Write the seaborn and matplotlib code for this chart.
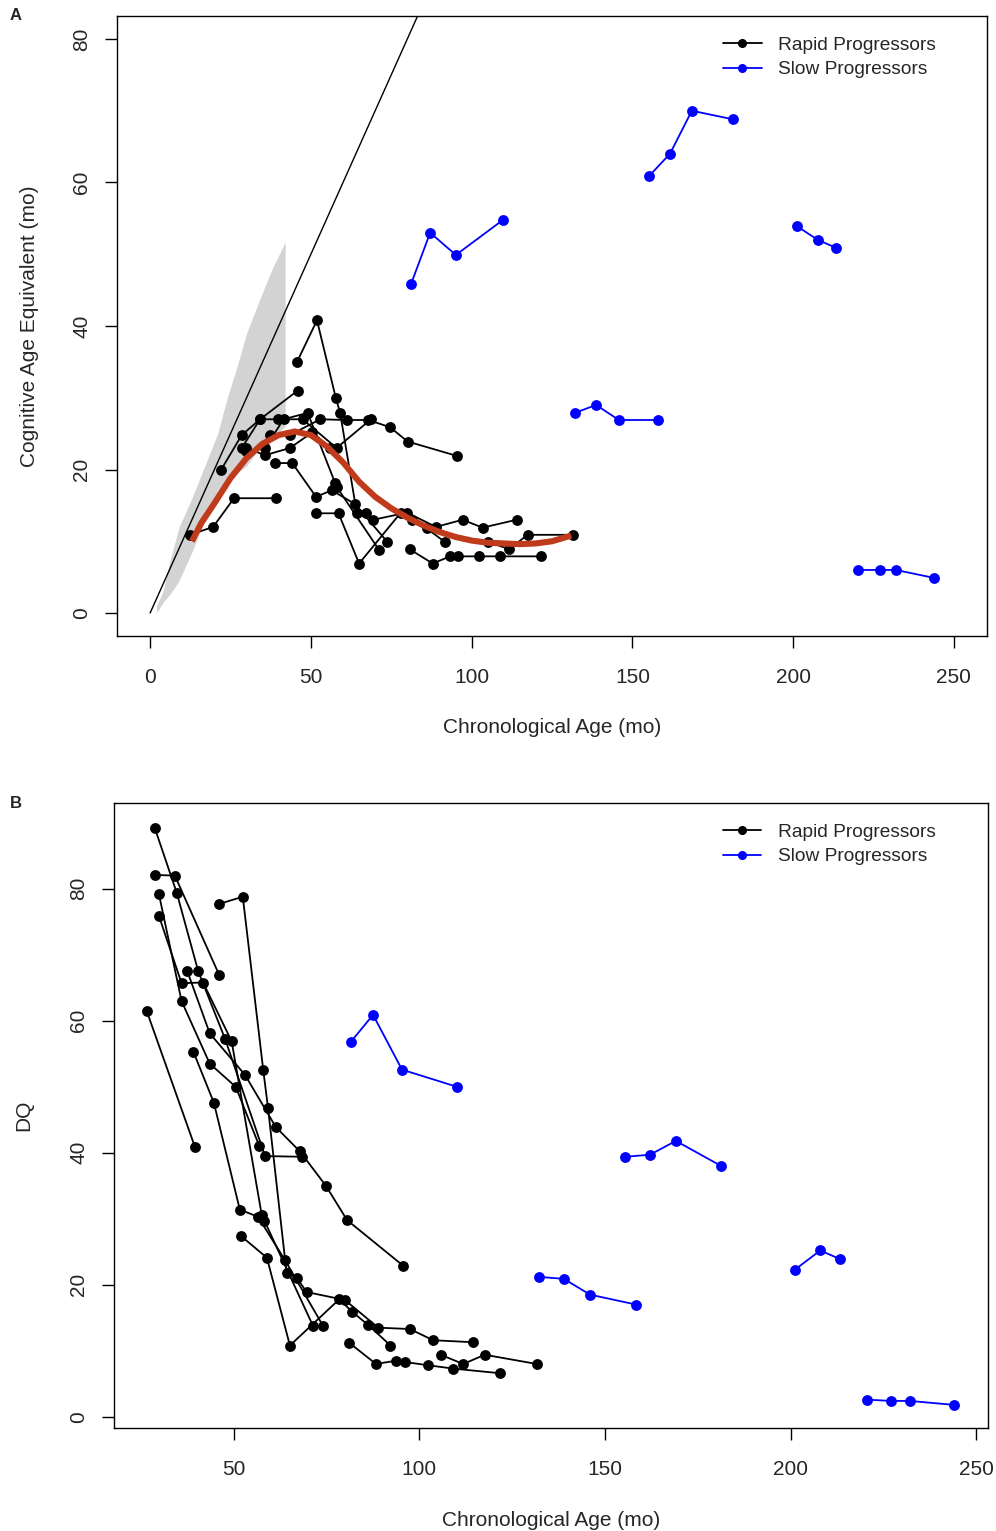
import matplotlib
matplotlib.use("Agg")
import matplotlib.pyplot as plt
from matplotlib.lines import Line2D
import pandas as pd
import seaborn as sns

# ---- Panel A: chronological age (mo) vs cognitive age equivalent (mo), one list per child
A_RAPID_AGE = [
    [12.4, 19.6, 26.1, 39.2],
    [45.7, 51.9, 57.8, 59.1, 64.3, 67.2, 69.4, 79.9, 88.9, 97.2, 103.4, 114.0],
    [37.3, 43.5, 52.9, 61.2, 67.9, 74.6, 80.1, 95.4],
    [22.0, 28.5, 34.2, 39.9, 47.4, 58.0, 68.7],
    [28.5, 34.2, 45.9],
    [29.8, 35.8, 43.5, 50.5, 56.0],
    [29.8, 35.8, 41.5, 49.0, 58.0, 71.2],
    [38.9, 44.2, 51.6, 56.5, 63.7, 73.8],
    [51.6, 58.6, 65.0, 78.0, 81.4, 86.0, 91.7],
    [57.5],
    [80.7, 87.9, 93.3, 95.7, 102.3, 108.8, 121.5],
    [105.2, 111.7, 117.4, 131.4],
]
A_RAPID_CAE = [
    [10.9, 12.0, 16.0, 16.0],
    [35.0, 40.8, 29.9, 27.9, 13.9, 13.9, 13.0, 14.0, 12.0, 13.0, 11.9, 13.0],
    [24.8, 24.8, 27.0, 26.9, 26.9, 25.9, 23.9, 21.9],
    [19.9, 24.8, 27.0, 27.0, 27.0, 23.0, 27.0],
    [23.0, 27.0, 31.0],
    [23.0, 22.0, 23.0, 25.2, 23.0],
    [22.6, 23.0, 27.0, 27.9, 17.6, 8.8],
    [20.9, 20.9, 16.2, 17.1, 15.2, 9.9],
    [13.9, 13.9, 6.9, 14.0, 13.0, 11.8, 9.9],
    [18.1],
    [8.9, 6.9, 7.9, 7.9, 7.9, 7.9, 7.9],
    [9.9, 8.9, 10.9, 10.9],
]
A_SLOW_AGE = [
    [81.2, 87.1, 95.1, 109.8],
    [155.2, 161.7, 168.5, 181.3],
    [201.2, 207.7, 213.3],
    [132.2, 138.7, 145.8, 158.0],
    [220.1, 227.0, 232.0, 243.8],
]
A_SLOW_CAE = [
    [45.9, 53.0, 49.9, 54.8],
    [60.9, 64.0, 70.0, 68.8],
    [53.9, 52.0, 50.9],
    [27.9, 29.0, 26.9, 26.9],
    [6.0, 6.0, 6.0, 4.9],
]

# smoothed group trend for rapid progressors (red curve)
FIT_AGE = [13, 16, 20, 25, 30, 35, 40, 45, 50, 55, 60, 65, 70, 75, 80, 85, 90, 95,
           100, 105, 110, 115, 120, 125, 131]
FIT_CAE = [10.0, 12.6, 15.3, 18.8, 21.6, 23.6, 24.8, 25.3, 24.8, 23.2, 21.0, 18.3,
           16.2, 14.6, 13.3, 12.2, 11.3, 10.6, 10.1, 9.8, 9.7, 9.6, 9.7, 10.0, 10.8]

# grey reference band of typical development
BAND_AGE = [2, 4, 6, 9, 13, 17, 21, 24, 27, 30, 34, 38, 42]
BAND_LOW = [0, 1.5, 2.5, 4.5, 8.5, 13.0, 16.5, 18.5, 19.5, 20.5, 23.0, 24.5, 26.0]
BAND_HIGH = [1, 3, 7, 12, 16, 20.5, 25, 30, 34.3, 39, 43.6, 48, 51.7]

# ---- Panel B: chronological age (mo) vs developmental quotient
B_RAPID_AGE = [
    [26.5, 39.5],
    [46.0, 52.4, 57.9, 59.2, 64.2, 66.9, 69.6, 79.9, 88.9, 97.4, 103.7, 114.3],
    [37.4, 43.5, 53.0, 61.3, 67.8, 74.8, 80.5, 95.6],
    [28.7, 34.6, 40.4, 47.6, 58.4, 68.3],
    [28.7, 34.1, 46.0],
    [29.8, 35.9, 43.5, 50.5, 56.8],
    [29.8, 35.9, 41.7, 49.4, 57.5, 71.3],
    [39.1, 44.6, 51.6, 56.5, 63.7, 74.0],
    [51.9, 58.9, 65.1, 78.4, 81.9, 86.2, 92.2],
    [58.1],
    [81.1, 88.3, 93.7, 96.1, 102.4, 109.1, 121.7],
    [105.7, 111.8, 117.6, 131.6],
]
B_RAPID_DQ = [
    [61.5, 40.9],
    [77.7, 78.8, 52.6, 46.8, 21.8, 21.1, 18.9, 17.7, 13.5, 13.3, 11.6, 11.3],
    [67.6, 58.1, 51.8, 43.9, 40.2, 35.0, 29.8, 22.9],
    [89.2, 79.4, 67.5, 57.3, 39.5, 39.4],
    [82.1, 82.0, 67.0],
    [79.2, 63.0, 53.5, 50.0, 41.1],
    [75.9, 65.7, 65.8, 56.9, 30.6, 13.8],
    [55.3, 47.6, 31.4, 30.3, 23.8, 13.8],
    [27.4, 24.1, 10.8, 17.8, 15.9, 13.9, 10.8],
    [29.7],
    [11.2, 8.0, 8.5, 8.3, 7.8, 7.3, 6.6],
    [9.4, 8.0, 9.4, 8.0],
]
B_SLOW_AGE = [
    [81.5, 87.5, 95.3, 110.1],
    [155.4, 162.1, 169.1, 181.3],
    [201.2, 208.0, 213.3],
    [132.2, 138.9, 146.0, 158.4],
    [220.6, 227.1, 232.2, 244.1],
]
B_SLOW_DQ = [
    [56.8, 60.9, 52.6, 50.0],
    [39.4, 39.7, 41.8, 38.0],
    [22.3, 25.2, 23.9],
    [21.2, 20.9, 18.5, 17.0],
    [2.6, 2.4, 2.4, 1.8],
]

GROUPS = ["Rapid Progressors", "Slow Progressors"]
COLORS = {"Rapid Progressors": "black", "Slow Progressors": "#0000FF"}
FIT_COLOR = "#C03A1C"
FONT = ["Liberation Sans", "DejaVu Sans"]


def long_frame(rapid_x, rapid_y, slow_x, slow_y):
    rows = []
    for group, xs, ys in [(GROUPS[0], rapid_x, rapid_y), (GROUPS[1], slow_x, slow_y)]:
        for i, (sx, sy) in enumerate(zip(xs, ys)):
            for x, y in zip(sx, sy):
                rows.append({"subject": f"{group[0]}{i}", "group": group, "age": x, "value": y})
    return pd.DataFrame(rows)


def draw_panel(ax, df):
    sns.lineplot(
        data=df, x="age", y="value", hue="group", hue_order=GROUPS, palette=COLORS,
        units="subject", estimator=None, sort=False, marker="o", markersize=7.8,
        markeredgewidth=0, linewidth=1.3, legend=False, ax=ax, zorder=3,
    )


def style_axes(ax, xticks, yticks, xlabel, ylabel, xlab_y, ylab_x, height_px):
    ax.set_xticks(xticks)
    ax.set_yticks(yticks)
    ax.tick_params(direction="out", length=8.5, width=1.0, labelsize=15, color="black",
                   pad=14.5)
    ax.tick_params(axis="y", labelrotation=90, pad=10)
    for lab in ax.get_yticklabels():
        lab.set_va("center")
    for sp in ax.spines.values():
        sp.set_visible(True)
        sp.set_color("black")
        sp.set_linewidth(1.0)
    ax.set_xlabel(xlabel, fontsize=15, va="center")
    ax.set_ylabel(ylabel, fontsize=15, va="center")
    ax.xaxis.set_label_coords(0.5, xlab_y)
    ax.yaxis.set_label_coords(ylab_x, 0.5)
    handles = [Line2D([], [], color=COLORS[g], marker="o", markersize=5.5, lw=1.3) for g in GROUPS]
    ax.legend(handles, GROUPS, loc="upper left", bbox_to_anchor=(0.688, 1 - 13 / height_px),
              frameon=False, fontsize=13.8, handlelength=2.0, handletextpad=0.85,
              labelspacing=0.36, borderaxespad=0)


sns.set_theme(style="ticks")
plt.rcParams["font.family"] = FONT
plt.rcParams["axes.facecolor"] = "white"

fig = plt.figure(figsize=(9.96, 15.31), dpi=100)
ax_a = fig.add_axes([117 / 996, 1 - 636 / 1531, 870 / 996, 620 / 1531])
ax_b = fig.add_axes([114 / 996, 1 - 1428 / 1531, 874 / 996, 625 / 1531])

# panel A
ax_a.fill_between(BAND_AGE, BAND_LOW, BAND_HIGH, color="#D3D3D3", lw=0, zorder=1)
ax_a.plot([0, 100], [0, 100], color="black", lw=1.0, zorder=2)
draw_panel(ax_a, long_frame(A_RAPID_AGE, A_RAPID_CAE, A_SLOW_AGE, A_SLOW_CAE))
ax_a.plot(FIT_AGE, FIT_CAE, color=FIT_COLOR, lw=4.4, solid_capstyle="butt", zorder=4)
ax_a.set_xlim(-10.3, 260.3)
ax_a.set_ylim(-3.2, 83.2)
style_axes(ax_a, [0, 50, 100, 150, 200, 250], [0, 20, 40, 60, 80],
           "Chronological Age (mo)", "Cognitive Age Equivalent (mo)", -0.147, -0.1, 620)

# panel B
draw_panel(ax_b, long_frame(B_RAPID_AGE, B_RAPID_DQ, B_SLOW_AGE, B_SLOW_DQ))
ax_b.set_xlim(17.7, 253.2)
ax_b.set_ylim(-1.7, 93.0)
style_axes(ax_b, [50, 100, 150, 200, 250], [0, 20, 40, 60, 80],
           "Chronological Age (mo)", "DQ", -0.1485, -0.103, 625)

fig.text(16 / 996, 1 - 16 / 1531, "A", fontsize=12, fontweight="bold", ha="center", va="center")
fig.text(16 / 996, 1 - 804 / 1531, "B", fontsize=12, fontweight="bold", ha="center", va="center")

fig.savefig("out.png", dpi=100, facecolor="white")
